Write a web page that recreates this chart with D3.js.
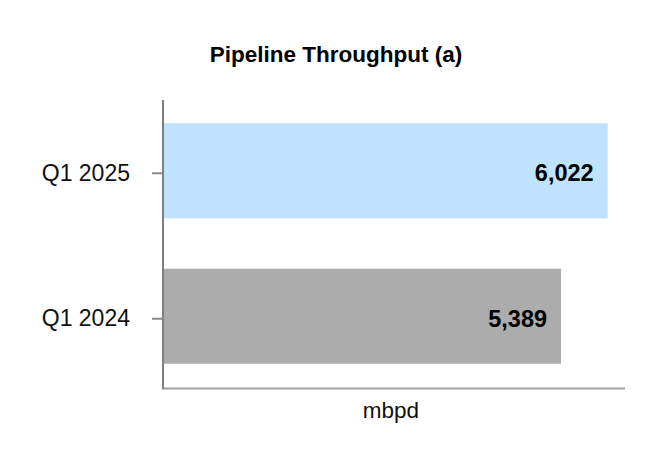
<!DOCTYPE html>
<html>
<head>
<meta charset="utf-8">
<script src="https://cdn.jsdelivr.net/npm/d3@7"></script>
<style>
  body { margin: 0; background: #fff; }
  svg { font-family: "Liberation Sans", Arial, sans-serif; }
</style>
</head>
<body>
<div id="chart"></div>
<script>
// Data
const categories = ['Q1 2025', 'Q1 2024'];
const values = [6022, 5389];
const barColors = ['#bfe3fd', '#acacac'];
const axisMax = 6257;
const title = 'Pipeline Throughput (a)';
const unitLabel = 'mbpd';

const width = 666;
const height = 468;
const margin = {top: 100, right: 41, bottom: 80, left: 164};

const svg = d3.select('#chart').append('svg')
    .attr('width', width)
    .attr('height', height);

const x = d3.scaleLinear()
    .domain([0, axisMax])
    .range([margin.left, width - margin.right]);

const y = d3.scaleBand()
    .domain(categories)
    .range([margin.top + 2, height - margin.bottom + 2])
    .paddingInner(0.34)
    .paddingOuter(0.16);

// Title
svg.append('text')
    .attr('x', 336)
    .attr('y', 62)
    .attr('text-anchor', 'middle')
    .style('font-size', '22.5px')
    .style('font-weight', 'bold')
    .text(title);

// Bars
svg.selectAll('rect.bar')
    .data(categories)
    .enter().append('rect')
    .attr('class', 'bar')
    .attr('x', x(0))
    .attr('y', d => y(d) - 2)
    .attr('width', (d, i) => x(values[i]) - x(0))
    .attr('height', y.bandwidth() - 1)
    .attr('fill', (d, i) => barColors[i]);

// Value labels
svg.selectAll('text.value')
    .data(categories)
    .enter().append('text')
    .attr('class', 'value')
    .attr('x', (d, i) => x(values[i]) - 14)
    .attr('y', d => y(d) + y.bandwidth() / 2)
    .attr('dy', '0.35em')
    .attr('text-anchor', 'end')
    .style('font-size', '23.5px')
    .style('font-weight', 'bold')
    .text((d, i) => d3.format(',')(values[i]));

// Y axis
const yAxis = svg.append('g')
    .attr('transform', `translate(${margin.left - 1},0)`)
    .call(d3.axisLeft(y).tickSize(11).tickPadding(22))
    .call(g => g.select('.domain').remove());

yAxis.selectAll('.tick line')
    .attr('stroke', '#888')
    .attr('stroke-width', 2);
yAxis.selectAll('.tick text')
    .style('font-size', '23px')
    .style('font-family', '"Liberation Sans", Arial, sans-serif')
    .attr('fill', '#111');

// Axis lines
svg.append('line')
    .attr('x1', margin.left - 1).attr('x2', margin.left - 1)
    .attr('y1', margin.top).attr('y2', 389.5)
    .attr('stroke', '#808080')
    .attr('stroke-width', 2);

svg.append('line')
    .attr('x1', margin.left).attr('x2', width - margin.right)
    .attr('y1', 388.5).attr('y2', 388.5)
    .attr('stroke', '#a0a0a0')
    .attr('stroke-width', 2);

// Unit label
svg.append('text')
    .attr('x', 391)
    .attr('y', 418)
    .attr('text-anchor', 'middle')
    .style('font-size', '22.5px')
    .attr('fill', '#111')
    .text(unitLabel);
</script>
</body>
</html>
